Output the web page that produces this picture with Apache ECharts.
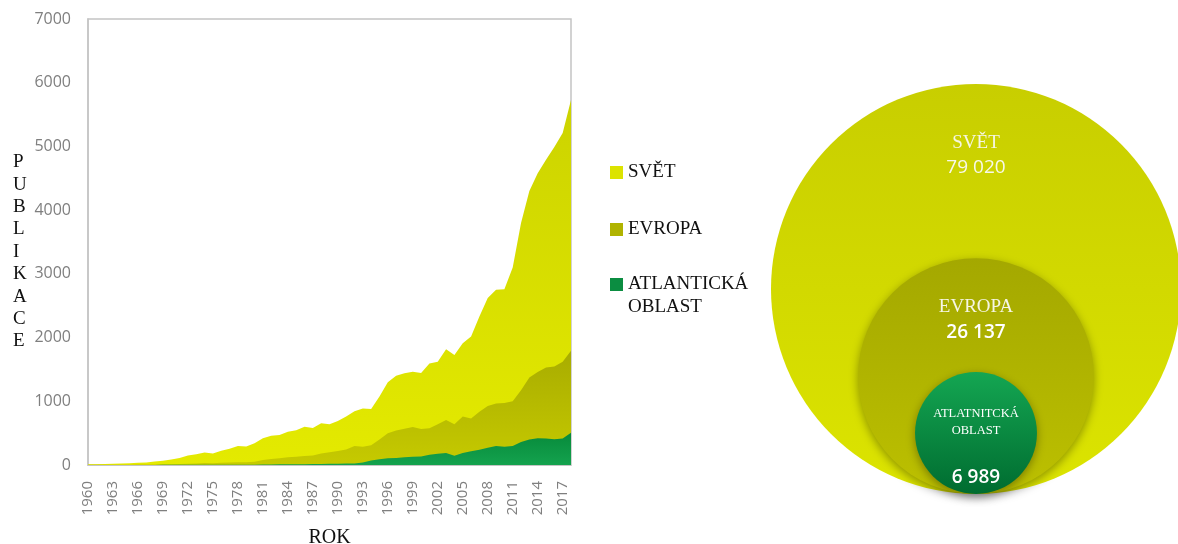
<!DOCTYPE html>
<html>
<head>
<meta charset="utf-8">
<script src="https://cdn.jsdelivr.net/npm/echarts@6/dist/echarts.min.js"></script>
<style>
  html, body { margin: 0; padding: 0; background: #ffffff; }
  #main { width: 1178px; height: 544px; }
</style>
</head>
<body>
<div id="main"></div>
<script>
// roky 1960 - 2018
const years = [
  '1960','1961','1962','1963','1964','1965','1966','1967','1968','1969',
  '1970','1971','1972','1973','1974','1975','1976','1977','1978','1979',
  '1980','1981','1982','1983','1984','1985','1986','1987','1988','1989',
  '1990','1991','1992','1993','1994','1995','1996','1997','1998','1999',
  '2000','2001','2002','2003','2004','2005','2006','2007','2008','2009',
  '2010','2011','2012','2013','2014','2015','2016','2017','2018'
];

const svet = [
  10, 12, 15, 18, 22, 26, 35, 40, 55, 65,
  85, 110, 150, 170, 195, 180, 225, 255, 300, 290,
  340, 420, 460, 470, 520, 545, 600, 580, 655, 640,
  690, 760, 845, 885, 880, 1075, 1300, 1400, 1440, 1465,
  1445, 1595, 1620, 1815, 1725, 1910, 2015, 2330, 2620, 2750,
  2760, 3100, 3800, 4300, 4580, 4790, 4990, 5210, 5730
];

const evropa = [
  2, 3, 3, 4, 5, 5, 6, 7, 8, 10,
  12, 15, 20, 25, 30, 28, 35, 40, 45, 45,
  50, 80, 95, 105, 120, 130, 140, 150, 180, 200,
  220, 245, 300, 285, 310, 400, 500, 540, 570, 595,
  565, 575, 640, 705, 640, 760, 730, 835, 925, 965,
  975, 1000, 1175, 1375, 1460, 1530, 1545, 1620, 1795
];

const atlantik = [
  0, 0, 0, 0, 0, 1, 1, 1, 1, 2,
  2, 2, 3, 3, 3, 3, 4, 4, 4, 4,
  5, 6, 8, 10, 10, 12, 12, 14, 15, 18,
  20, 22, 25, 40, 70, 90, 105, 110, 120, 130,
  135, 160, 175, 190, 145, 190, 215, 240, 270, 300,
  285, 300, 360, 400, 420, 415, 405, 415, 505
];

const seriesNames = ['SVĚT', 'EVROPA', 'ATLANTICKÁ\nOBLAST'];

// celkove pocty publikaci (kruhy vpravo)
const circleNames = ['SVĚT', 'EVROPA', 'ATLATNITCKÁ\nOBLAST'];
const circleTotals = [79020, 26137, 6989];

const grad = (top, bottom) => new echarts.graphic.LinearGradient(0, 0, 0, 1, [
  {offset: 0, color: top},
  {offset: 1, color: bottom}
]);

const fmtNum = (v) => String(v).replace(/\B(?=(\d{3})+(?!\d))/g, ' ');

const chart = echarts.init(document.getElementById('main'));

// kruhy - plocha umerna poctu, vsechny se dotykaji dole
const maxR = 205;
const k = maxR / Math.sqrt(circleTotals[0]);
const circleFill = [
  grad('#c8ce00', '#dce400'),
  grad('#a4a800', '#bcc000'),
  grad('#14a652', '#006c30')
];
const circleShadow = [0, 10, 10];
const labelRich = {
  n: {fontFamily: 'Liberation Serif', fontSize: 19, color: '#f6f6e4', lineHeight: 24},
  v: {fontFamily: 'Open Sans', fontSize: 19, color: '#f8f8ea', lineHeight: 26},
  vb: {fontFamily: 'Open Sans', fontSize: 19, fontWeight: 600, color: '#ffffff', lineHeight: 26},
  s: {fontFamily: 'Liberation Serif', fontSize: 12.5, color: '#ffffff', lineHeight: 17},
  g: {lineHeight: 26}
};
const circleData = circleTotals.map((v, i) => {
  const r = k * Math.sqrt(v);
  let label;
  if (i === 0) {
    label = {formatter: '{n|' + circleNames[i] + '}\n{v|' + fmtNum(v) + '}', offset: [0, -133]};
  } else if (i === 1) {
    label = {formatter: '{n|' + circleNames[i] + '}\n{vb|' + fmtNum(v) + '}', offset: [0, -56]};
  } else {
    const parts = circleNames[i].split('\n');
    label = {formatter: '{s|' + parts[0] + '}\n{s|' + parts[1] + '}\n{g|}\n{vb|' + fmtNum(v) + '}', offset: [0, 15]};
  }
  return {
    name: circleNames[i],
    value: [0, r],
    symbolSize: 2 * r,
    itemStyle: {
      color: circleFill[i],
      opacity: 1,
      shadowBlur: circleShadow[i],
      shadowColor: 'rgba(0,0,0,0.35)',
      shadowOffsetY: circleShadow[i] ? 3 : 0
    },
    label: label
  };
});

const legendColors = ['#dce300', '#b0b300', '#0b8d41'];
const legendTops = [156, 213, 245];

let option = {
  animation: false,
  graphic: [{
    type: 'text',
    left: 13,
    top: 151,
    style: {
      text: 'P\nU\nB\nL\nI\nK\nA\nC\nE',
      font: '19px "Liberation Serif"',
      fill: '#111111',
      lineHeight: 22.4,
      align: 'center'
    }
  }],
  grid: [
    {
      left: 88, right: 607, top: 19, bottom: 79, show: true,
      borderColor: '#c4c4c4', borderWidth: 1.5,
      outerBoundsMode: 'none', containLabel: false
    },
    {left: 771, top: 84, width: 410, height: 410, outerBoundsMode: 'none'}
  ],
  legend: seriesNames.map((nm, i) => ({
    left: 605,
    top: legendTops[i],
    orient: 'vertical',
    icon: 'rect',
    itemWidth: 13,
    itemHeight: 13,
    itemGap: 5,
    selectedMode: false,
    data: [{name: nm, itemStyle: {color: legendColors[i]}}],
    formatter: i === 2 ? (name) => ' \n' + name : '{name}',
    textStyle: {fontFamily: 'Liberation Serif', fontSize: 19, color: '#111111', lineHeight: 23}
  })),
  xAxis: [{
    type: 'category',
    gridIndex: 0,
    data: years,
    boundaryGap: false,
    name: 'ROK',
    nameLocation: 'middle',
    nameGap: 63,
    nameTextStyle: {fontFamily: 'Liberation Serif', fontSize: 20, color: '#111111'},
    axisTick: {show: false},
    axisLine: {lineStyle: {color: '#c4c4c4'}},
    axisLabel: {
      interval: 2,
      rotate: 90,
      margin: 16,
      color: '#7f7f7f',
      fontFamily: 'Open Sans',
      fontSize: 15
    }
  }, {
    type: 'value', gridIndex: 1, min: -1, max: 1, show: false
  }],
  yAxis: [{
    type: 'value',
    gridIndex: 0,
    min: 0,
    max: 7000,
    interval: 1000,
    splitLine: {show: false},
    axisTick: {show: false},
    axisLine: {show: true, lineStyle: {color: '#c4c4c4', width: 1.5}},
    axisLabel: {
      margin: 17, color: '#7f7f7f', fontFamily: 'Open Sans', fontSize: 16,
      formatter: (v) => String(v)
    }
  }, {
    type: 'value', gridIndex: 1, min: 0, max: 410, show: false
  }],
  series: [
    {
      name: seriesNames[0], type: 'line', data: svet, showSymbol: false,
      lineStyle: {width: 0}, areaStyle: {color: grad('#ccd300', '#e4ea00'), opacity: 1},
      itemStyle: {color: legendColors[0]}
    },
    {
      name: seriesNames[1], type: 'line', data: evropa, showSymbol: false,
      lineStyle: {width: 0}, areaStyle: {color: grad('#a8ac00', '#c6ca00'), opacity: 1},
      itemStyle: {color: legendColors[1]}
    },
    {
      name: seriesNames[2], type: 'line', data: atlantik, showSymbol: false,
      lineStyle: {width: 0}, areaStyle: {color: grad('#078a3b', '#14a24e'), opacity: 1},
      itemStyle: {color: legendColors[2]}
    },
    {
      type: 'scatter',
      xAxisIndex: 1,
      yAxisIndex: 1,
      silent: true,
      data: circleData,
      label: {show: true, position: 'inside', rich: labelRich},
      emphasis: {disabled: true}
    }
  ]
};

chart.setOption(option);
</script>
</body>
</html>
